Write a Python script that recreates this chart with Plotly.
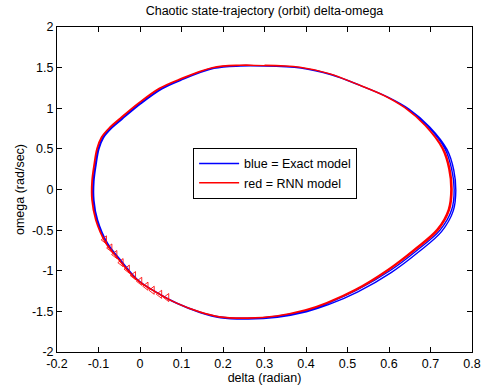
import plotly.graph_objects as go

# ---- data ----
blue_a_x = [0.300,0.386,0.458,0.526,0.592,0.643,0.693,0.735,0.751,0.757,0.751,0.723,0.667,0.602,0.522,0.452,0.400,0.330,0.260,0.193,0.145,0.089,0.041,-0.007,-0.048,-0.080,-0.104,-0.113,-0.113,-0.108,-0.101,-0.090,-0.070,-0.045,0.000,0.050,0.096,0.176,0.240,0.300]
blue_a_y = [1.525,1.500,1.420,1.290,1.150,1.000,0.780,0.500,0.250,0.000,-0.250,-0.500,-0.750,-1.000,-1.240,-1.400,-1.490,-1.560,-1.585,-1.570,-1.510,-1.400,-1.270,-1.110,-0.870,-0.660,-0.375,-0.130,0.100,0.300,0.500,0.640,0.760,0.870,1.060,1.240,1.348,1.495,1.525,1.520]
blue_b_x = [0.300,0.388,0.461,0.530,0.596,0.648,0.698,0.740,0.756,0.761,0.755,0.727,0.671,0.606,0.525,0.454,0.401,0.331,0.261,0.194,0.146,0.090,0.043,-0.005,-0.046,-0.078,-0.102,-0.111,-0.111,-0.106,-0.099,-0.088,-0.068,-0.043,0.002,0.052,0.098,0.178,0.242,0.300]
blue_b_y = [1.520,1.495,1.412,1.282,1.140,0.990,0.770,0.490,0.240,-0.010,-0.260,-0.515,-0.770,-1.020,-1.260,-1.418,-1.505,-1.572,-1.595,-1.580,-1.518,-1.406,-1.275,-1.114,-0.874,-0.664,-0.378,-0.132,0.098,0.298,0.498,0.636,0.756,0.866,1.056,1.236,1.344,1.490,1.520,1.520]
red_a_x = [0.300,0.385,0.456,0.523,0.588,0.638,0.687,0.728,0.744,0.749,0.743,0.716,0.661,0.597,0.519,0.450,0.398,0.329,0.259,0.191,0.143,0.087,0.039,-0.009,-0.051,-0.083,-0.107,-0.116,-0.116,-0.111,-0.104,-0.093,-0.073,-0.048,-0.003,0.047,0.094,0.174,0.239,0.300]
red_a_y = [1.530,1.506,1.426,1.296,1.156,1.006,0.786,0.505,0.255,0.005,-0.245,-0.490,-0.735,-0.985,-1.230,-1.392,-1.483,-1.555,-1.580,-1.565,-1.505,-1.396,-1.266,-1.106,-0.866,-0.656,-0.372,-0.128,0.102,0.302,0.503,0.645,0.766,0.877,1.067,1.247,1.355,1.500,1.530,1.525]
red_b_x = [0.300,0.386,0.457,0.524,0.590,0.640,0.689,0.731,0.747,0.752,0.746,0.719,0.664,0.599,0.521,0.451,0.399,0.330,0.260,0.192,0.144,0.088,0.040,-0.008,-0.050,-0.082,-0.106,-0.115,-0.115,-0.110,-0.103,-0.092,-0.072,-0.047,-0.002,0.048,0.095,0.175,0.240,0.300]
red_b_y = [1.525,1.503,1.423,1.293,1.153,1.003,0.783,0.502,0.252,0.002,-0.248,-0.495,-0.742,-0.992,-1.236,-1.397,-1.488,-1.559,-1.584,-1.569,-1.509,-1.399,-1.269,-1.109,-0.869,-0.659,-0.374,-0.129,0.101,0.301,0.501,0.642,0.763,0.874,1.064,1.244,1.352,1.498,1.528,1.525]
tri_x = [-0.085,-0.072,-0.060,-0.045,-0.030,-0.015,0.000,0.015,0.030,0.048,0.065]
tri_y = [-0.62,-0.72,-0.80,-0.90,-0.98,-1.06,-1.13,-1.19,-1.24,-1.29,-1.33]

x_ticks = [-0.2,-0.1,0,0.1,0.2,0.3,0.4,0.5,0.6,0.7,0.8]
x_labels = ["-0.2","-0.1","0","0.1","0.2","0.3","0.4","0.5","0.6","0.7","0.8"]
y_ticks = [-2,-1.5,-1,-0.5,0,0.5,1,1.5,2]
y_labels = ["-2","-1.5","-1","-0.5","0","0.5","1","1.5","2"]

FONT = "Liberation Sans, Arial, sans-serif"
FS = 12.5

fig = go.Figure()
fig.add_trace(go.Scatter(x=blue_a_x + blue_b_x, y=blue_a_y + blue_b_y, mode="lines",
                         line=dict(color="#0000ff", width=1.4, shape="spline", smoothing=1.0),
                         name="blue = Exact model"))
fig.add_trace(go.Scatter(x=red_a_x + red_b_x, y=red_a_y + red_b_y, mode="lines",
                         line=dict(color="#ff0000", width=1.4, shape="spline", smoothing=1.0),
                         name="red = RNN model"))
fig.add_trace(go.Scatter(x=tri_x, y=tri_y, mode="markers", showlegend=False,
                         marker=dict(symbol="triangle-left-open", size=7, color="rgba(255,0,0,0.85)",
                                     line=dict(width=1))))

axis_common = dict(showline=True, linecolor="#000000", linewidth=1, mirror="ticks",
                   ticks="inside", ticklen=5, tickcolor="#000000", showgrid=False, zeroline=False,
                   automargin=False,
                   tickfont=dict(family=FONT, size=FS, color="#000000"))

fig.update_layout(
    width=486, height=392,
    margin=dict(l=57, r=14, t=27, b=40, autoexpand=False),
    paper_bgcolor="white", plot_bgcolor="white",
    font=dict(family=FONT, size=FS, color="#000000"),
    title=dict(text="Chaotic state-trajectory (orbit) delta-omega", x=0.5, xref="paper",
               y=1, yref="container", yanchor="top", pad=dict(t=6),
               font=dict(family=FONT, size=FS, color="#000000")),
    xaxis=dict(range=[-0.2, 0.8], tickvals=x_ticks, ticktext=x_labels,
               title=dict(text="delta (radian)", standoff=3, font=dict(family=FONT, size=FS)),
               **axis_common),
    yaxis=dict(range=[-2, 2], tickvals=y_ticks, ticktext=y_labels,
               title=dict(text="omega (rad/sec)", standoff=4, font=dict(family=FONT, size=FS)),
               **axis_common),
    legend=dict(x=0.328, y=0.628, xanchor="left", yanchor="top", bgcolor="white",
                bordercolor="#000000", borderwidth=1, font=dict(family=FONT, size=FS),
                tracegroupgap=0, itemwidth=40),
    showlegend=True,
)

fig.write_html("out.html", config={"displayModeBar": False},
               post_script="document.body.style.margin='0px';")
